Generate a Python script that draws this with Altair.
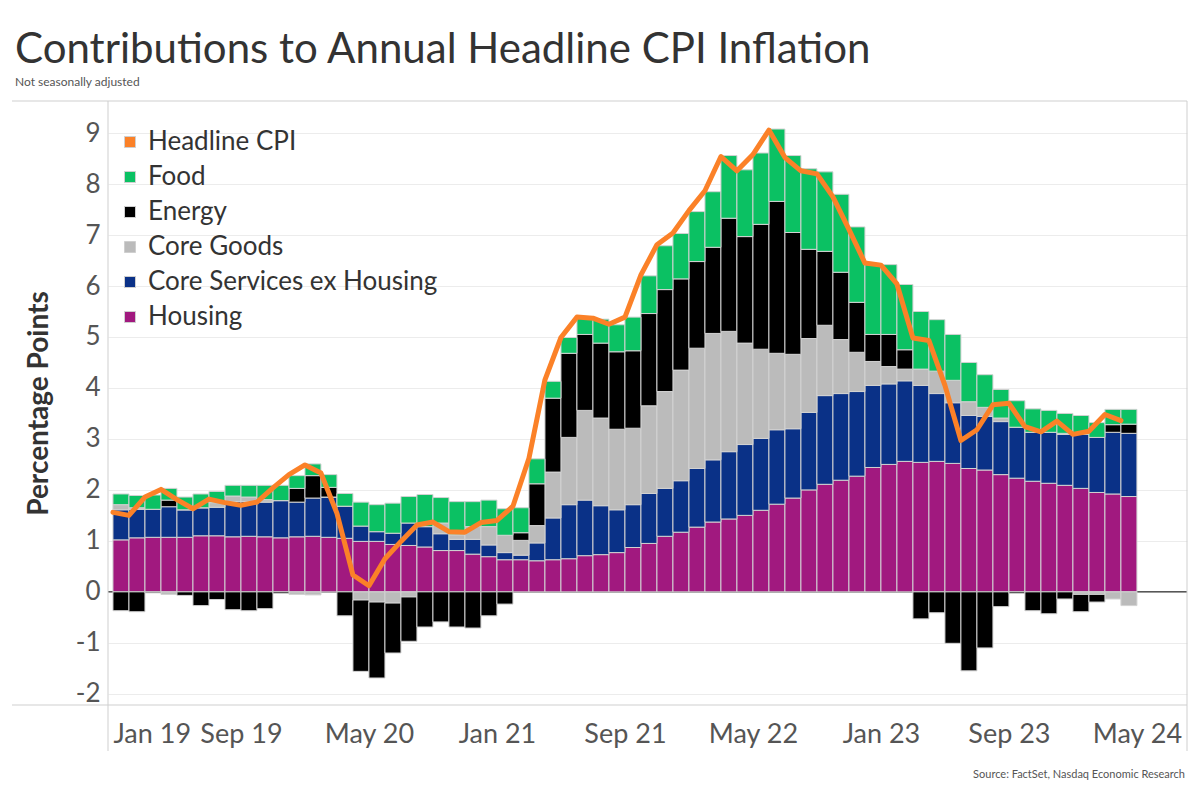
import altair as alt
import pandas as pd

# ---- data (percentage-point contributions, Jan 2019 .. Apr 2024) ----
housing = [1.02, 1.06, 1.07, 1.07, 1.07, 1.10, 1.10, 1.08, 1.09, 1.08, 1.06, 1.08,
           1.09, 1.07, 1.05, 0.99, 0.99, 0.93, 0.91, 0.88, 0.81, 0.81, 0.74, 0.69,
           0.63, 0.63, 0.61, 0.63, 0.65, 0.71, 0.73, 0.77, 0.87, 0.95, 1.09, 1.17,
           1.27, 1.37, 1.43, 1.50, 1.60, 1.72, 1.84, 2.00, 2.11, 2.19, 2.27, 2.44,
           2.50, 2.56, 2.54, 2.56, 2.52, 2.42, 2.39, 2.30, 2.23, 2.17, 2.13, 2.09,
           2.03, 1.95, 1.92, 1.87]
core_services = [0.59, 0.56, 0.55, 0.60, 0.54, 0.55, 0.56, 0.69, 0.68, 0.68, 0.73, 0.68,
                 0.75, 0.79, 0.63, 0.30, 0.19, 0.22, 0.44, 0.40, 0.33, 0.22, 0.29, 0.23,
                 0.14, 0.09, 0.35, 0.82, 1.06, 1.09, 0.96, 0.84, 0.84, 0.98, 0.94, 1.01,
                 1.15, 1.22, 1.32, 1.39, 1.41, 1.46, 1.36, 1.52, 1.74, 1.70, 1.66, 1.61,
                 1.58, 1.58, 1.51, 1.33, 1.19, 1.04, 1.05, 1.04, 1.00, 0.96, 1.00, 1.00,
                 1.06, 1.08, 1.21, 1.24]
core_goods = [0.10, 0.03, 0.00, -0.05, 0.00, 0.00, 0.09, 0.11, 0.09, 0.05, 0.00, -0.05,
              -0.06, 0.00, 0.00, -0.16, -0.20, -0.22, -0.10, 0.00, 0.21, 0.09, 0.25, 0.36,
              0.34, 0.29, 0.34, 0.90, 1.32, 1.76, 1.72, 1.58, 1.50, 1.72, 1.90, 2.17,
              2.36, 2.48, 2.36, 1.99, 1.75, 1.50, 1.46, 1.45, 1.38, 1.06, 0.77, 0.47,
              0.34, 0.23, 0.32, 0.44, 0.44, 0.27, 0.18, 0.07, 0.00, 0.00, 0.00, 0.02,
              -0.05, -0.05, -0.14, -0.27]
energy = [-0.37, -0.39, -0.02, 0.13, -0.07, -0.27, -0.15, -0.35, -0.37, -0.33, -0.03, 0.27,
          0.44, 0.19, -0.47, -1.40, -1.49, -0.98, -0.87, -0.69, -0.59, -0.69, -0.71, -0.47,
          -0.24, 0.15, 0.82, 1.45, 1.65, 1.49, 1.47, 1.52, 1.52, 1.81, 2.00, 1.79,
          1.70, 1.69, 2.22, 2.09, 2.45, 2.98, 2.39, 1.75, 1.45, 1.32, 0.98, 0.53,
          0.63, 0.38, -0.53, -0.41, -1.01, -1.55, -1.10, -0.29, -0.03, -0.37, -0.43, -0.14,
          -0.34, -0.15, 0.15, 0.18]
food = [0.21, 0.24, 0.28, 0.23, 0.25, 0.27, 0.22, 0.21, 0.23, 0.28, 0.30, 0.25,
        0.23, 0.25, 0.25, 0.47, 0.53, 0.59, 0.52, 0.63, 0.50, 0.65, 0.49, 0.52,
        0.52, 0.49, 0.49, 0.33, 0.31, 0.32, 0.47, 0.53, 0.66, 0.74, 0.86, 0.89,
        0.98, 1.09, 1.23, 1.31, 1.40, 1.42, 1.51, 1.58, 1.56, 1.53, 1.48, 1.37,
        1.37, 1.28, 1.13, 1.01, 0.90, 0.77, 0.64, 0.56, 0.52, 0.46, 0.43, 0.39,
        0.37, 0.29, 0.30, 0.29]
headline = [1.56, 1.50, 1.86, 2.01, 1.81, 1.63, 1.82, 1.75, 1.70, 1.76, 2.04, 2.30,
            2.49, 2.33, 1.54, 0.33, 0.12, 0.65, 0.99, 1.31, 1.37, 1.18, 1.17, 1.36,
            1.40, 1.68, 2.62, 4.16, 4.99, 5.39, 5.37, 5.25, 5.39, 6.22, 6.81, 7.04,
            7.48, 7.87, 8.54, 8.26, 8.58, 9.06, 8.52, 8.26, 8.20, 7.75, 7.11, 6.45,
            6.41, 6.04, 4.98, 4.93, 4.05, 2.97, 3.18, 3.67, 3.70, 3.24, 3.14, 3.35,
            3.09, 3.15, 3.48, 3.36]

tick_labels = ["Jan 19", "Sep 19", "May 20", "Jan 21", "Sep 21", "May 22", "Jan 23", "Sep 23", "May 24"]
tick_positions = [0, 8, 16, 24, 32, 40, 48, 56, 64]  # month index from Jan 2019

legend_names = ["Headline CPI", "Food", "Energy", "Core Goods", "Core Services ex Housing", "Housing"]
legend_colors = ["#FB8128", "#0BC163", "#000000", "#BBBBBB", "#0A3187", "#A1197F"]

stack_order = ["Housing", "Core Services ex Housing", "Core Goods", "Energy", "Food"]
components = {
    "Housing": housing,
    "Core Services ex Housing": core_services,
    "Core Goods": core_goods,
    "Energy": energy,
    "Food": food,
}

rows = []
for k, name in enumerate(stack_order):
    for i, v in enumerate(components[name]):
        rows.append({"i": i, "i_end": i + 1, "component": name, "order": k, "value": v})
bars_df = pd.DataFrame(rows)
line_df = pd.DataFrame({"i": list(range(len(headline))), "headline": headline})

TITLE = "Contributions to Annual Headline CPI Inflation"
SUBTITLE = "Not seasonally adjusted"
SOURCE = "Source: FactSet, Nasdaq Economic Research"

W, H = 1079, 604
FONT = "Lato"
FRAME = "#cfcfcf"

x_scale = alt.Scale(domain=[-0.31, 67.13], nice=False, zero=False)
y_scale = alt.Scale(domain=[-2.22, 9.63], nice=False, zero=False)
color_scale = alt.Scale(domain=legend_names, range=legend_colors)

label_expr = ("[" + ",".join("'%s'" % t for t in tick_labels) + "][indexof(["
              + ",".join(str(p) for p in tick_positions) + "], datum.value)]")

x_axis = alt.Axis(values=tick_positions, labelExpr=label_expr, grid=False, domain=False,
                  ticks=False, labelFontSize=27, labelFont=FONT, labelColor="#555555",
                  labelPadding=16, labelFlush=12, labelOverlap=False)
y_axis = alt.Axis(values=list(range(-2, 10)), labelExpr="datum.value + ''", grid=True,
                  gridColor="#ececec", domain=False, ticks=False, labelFontSize=26,
                  labelFont=FONT, labelColor="#555555", labelPadding=8, titleFontSize=28,
                  titleFont=FONT, titleFontWeight="bold", titleColor="#333333",
                  titlePadding=22)

one = pd.DataFrame({"k": [0]})

zero_rule = alt.Chart(one).mark_rule(color="#000000", strokeWidth=1).encode(
    y=alt.datum(0), x=alt.value(0), x2=alt.value(W))

bars = alt.Chart(bars_df).transform_stack(
    stack="value", groupby=["i"], as_=["y0", "y1"],
    sort=[alt.SortField("order", order="ascending")]
).mark_bar(stroke="#d2d2d2", strokeWidth=1).encode(
    x=alt.X("i:Q", scale=x_scale, axis=x_axis, title=None),
    x2="i_end:Q",
    y=alt.Y("y0:Q", scale=y_scale, axis=y_axis, title="Percentage Points"),
    y2="y1:Q",
    color=alt.Color("component:N", scale=color_scale, title=None,
                    legend=alt.Legend(orient="none", legendX=9, legendY=28, padding=0,
                                      symbolType="square", symbolSize=121,
                                      symbolStrokeColor=FRAME, symbolStrokeWidth=1,
                                      labelFontSize=26, labelFont=FONT, labelColor="#333333",
                                      labelOffset=5, rowPadding=9, labelLimit=500)),
)

line = alt.Chart(line_df).mark_line(color="#FB8128", strokeWidth=5, strokeCap="round",
                                    strokeJoin="round").encode(
    x=alt.X("i:Q", scale=x_scale),
    y=alt.Y("headline:Q", scale=y_scale),
)

top_line = alt.Chart(one).mark_rule(color=FRAME, strokeWidth=1).encode(
    x=alt.value(-96), x2=alt.value(W), y=alt.value(0))
bottom_line = alt.Chart(one).mark_rule(color=FRAME, strokeWidth=1).encode(
    x=alt.value(-96), x2=alt.value(W), y=alt.value(H))
left_line = alt.Chart(one).mark_rule(color=FRAME, strokeWidth=1).encode(
    x=alt.value(0), y=alt.value(0), y2=alt.value(H + 46))
right_line = alt.Chart(one).mark_rule(color=FRAME, strokeWidth=1).encode(
    x=alt.value(W), y=alt.value(0), y2=alt.value(H + 46))

source = alt.Chart(pd.DataFrame({"t": [SOURCE]})).mark_text(
    align="right", baseline="alphabetic", fontSize=11, font=FONT, color="#555555"
).encode(text="t:N", x=alt.value(W - 2), y=alt.value(H + 73))

chart = alt.layer(
    zero_rule, bars, line, top_line, bottom_line, left_line, right_line, source
).properties(
    width=W, height=H,
    autosize=alt.AutoSizeParams(type="none"),
    padding={"left": 108, "top": 101, "right": 13, "bottom": 95},
    title=alt.TitleParams(text=TITLE, subtitle=SUBTITLE, anchor="start", frame="group",
                          dx=-93, fontSize=42, font=FONT, fontWeight="normal", color="#333333",
                          subtitleFontSize=12, subtitleFont=FONT, subtitleColor="#555555",
                          subtitlePadding=5, offset=12),
).configure_view(strokeWidth=0)

chart.save("out.html", embed_options={"renderer": "svg", "actions": False})
